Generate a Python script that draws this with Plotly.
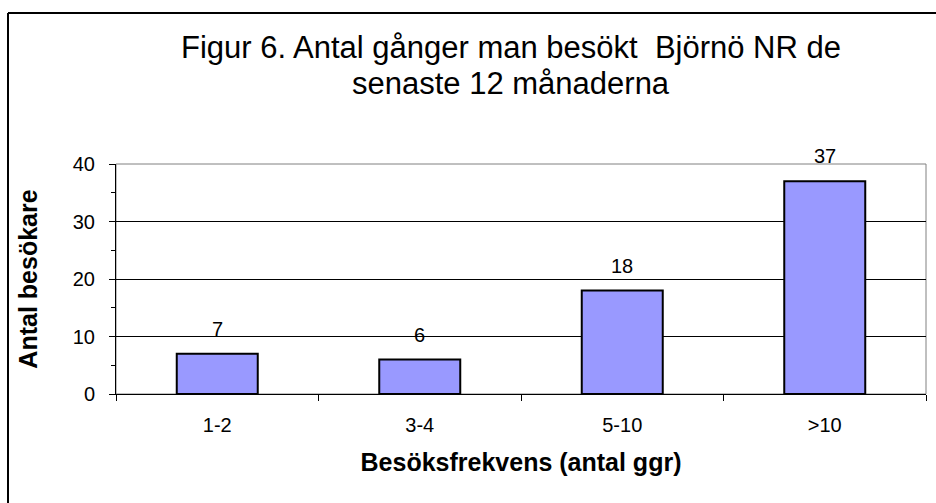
import plotly.graph_objects as go

categories = ["1-2", "3-4", "5-10", ">10"]
values = [7, 6, 18, 37]

title_lines = ["Figur 6. Antal gånger man besökt  Björnö NR de", "senaste 12 månaderna"]
x_title = "Besöksfrekvens (antal ggr)"
y_title = "Antal besökare"

W, H = 936, 503
L, R, T, B = 116, 10, 164, 109
pw = W - L - R
ph = H - T - B

def px(x):
    return (x - L) / pw

def py(y):
    return (H - B - y) / ph

FONT = "Arial, 'Liberation Sans', sans-serif"

fig = go.Figure()
fig.add_trace(go.Bar(
    x=categories, y=values,
    marker=dict(color="#9999FF", line=dict(color="black", width=2)),
    hoverinfo="x+y",
))

annotations = []
for c, v in zip(categories, values):
    annotations.append(dict(x=c, y=v, text=str(v), showarrow=False,
                            yanchor="bottom", yshift=12,
                            font=dict(size=20, color="black", family=FONT)))
annotations.append(dict(xref="paper", yref="paper", x=px(511), y=py(47), text=title_lines[0],
                        showarrow=False, font=dict(size=31, color="black", family=FONT),
                        xanchor="center", yanchor="middle"))
annotations.append(dict(xref="paper", yref="paper", x=px(511), y=py(83), text=title_lines[1],
                        showarrow=False, font=dict(size=31, color="black", family=FONT),
                        xanchor="center", yanchor="middle"))

shapes = [
    dict(type="rect", xref="paper", yref="paper", x0=0, y0=0, x1=1, y1=1,
         line=dict(color="#808080", width=1), layer="below"),
    dict(type="line", xref="paper", yref="paper", x0=px(8), y0=py(13), x1=px(8), y1=py(H + 5),
         line=dict(color="black", width=2)),
    dict(type="line", xref="paper", yref="paper", x0=px(8), y0=py(13), x1=px(W + 5), y1=py(13),
         line=dict(color="black", width=2)),
]

fig.update_layout(
    width=W, height=H,
    margin=dict(l=L, r=R, t=T, b=B, pad=0),
    paper_bgcolor="white", plot_bgcolor="white",
    showlegend=False,
    bargap=0.6,
    annotations=annotations,
    shapes=shapes,
    font=dict(family=FONT, color="black"),
)

fig.update_xaxes(
    type="category",
    tickson="boundaries",
    ticks="outside", ticklen=6, tickcolor="black", tickwidth=1,
    showline=True, linecolor="black", linewidth=1,
    showgrid=False,
    tickfont=dict(size=20, color="black", family=FONT),
    ticklabelstandoff=13,
    title=dict(text="<b>" + x_title + "</b>", font=dict(size=25, color="black", family=FONT), standoff=18),
    range=[-0.5, 3.5],
)

fig.update_yaxes(
    range=[0, 40], dtick=10, tick0=0,
    ticks="outside", ticklen=6, tickcolor="black", tickwidth=1,
    minor=dict(dtick=5, ticks="outside", ticklen=4, tickcolor="black", showgrid=False),
    showline=True, linecolor="black", linewidth=1,
    showgrid=True, gridcolor="black", gridwidth=1,
    zeroline=False,
    tickfont=dict(size=20, color="black", family=FONT),
    ticklabelstandoff=10,
    title=dict(text="<b>" + y_title + "</b>", font=dict(size=25, color="black", family=FONT), standoff=28),
)

fig.write_html("out.html", config={"displayModeBar": False},
               post_script="document.body.style.margin='0';document.body.style.padding='0';")
